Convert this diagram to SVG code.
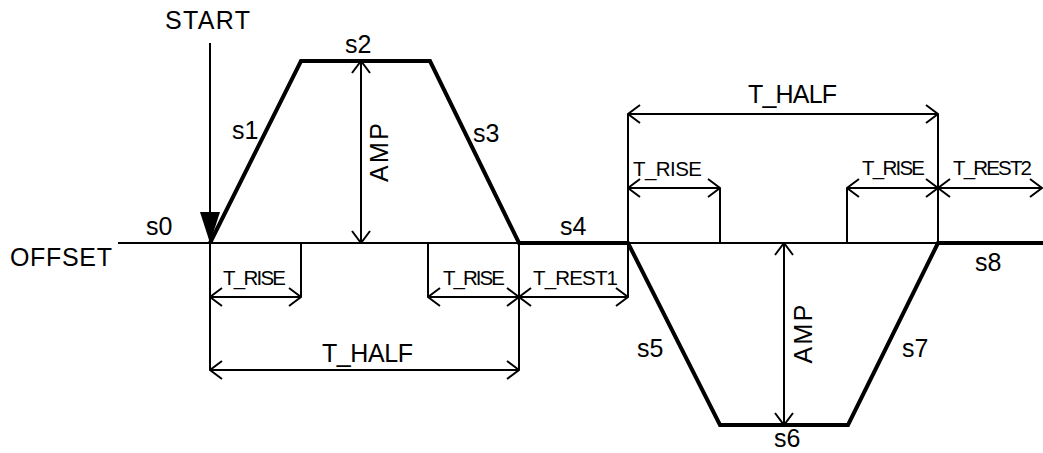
<svg xmlns="http://www.w3.org/2000/svg" width="1043" height="453" viewBox="0 0 1043 453">
<defs>
<marker id="chev" viewBox="0 0 14 20" refX="13" refY="10" markerWidth="14" markerHeight="20" markerUnits="userSpaceOnUse" orient="auto-start-reverse">
<path d="M1,1 L13,10 L1,19" fill="none" stroke="#000" stroke-width="2"/>
</marker>
<style>
.thin{stroke:#000;stroke-width:2;fill:none}
.thick{stroke:#000;stroke-width:4;fill:none;stroke-linejoin:miter}
.dim{stroke:#000;stroke-width:2;fill:none;marker-start:url(#chev);marker-end:url(#chev)}
.lbl{font-family:"Liberation Sans",Arial,sans-serif;font-size:25px;fill:#000}
.sm{font-family:"Liberation Sans",Arial,sans-serif;font-size:20.5px;fill:#000}
</style>
</defs>
<rect width="1043" height="453" fill="#fff"/>

<g id="connectors">
<line class="thin" x1="118" y1="243" x2="1043" y2="243"/>
<polyline class="thick" points="210,243 301,61 430,61 519,243 628,243 720,425 848,425 938,243 1043,243"/>
<line class="thin" x1="210" y1="43" x2="210" y2="214"/>
<polygon points="200,212 220,212 210,243" fill="#000"/>
<line class="thin" x1="628" y1="114" x2="628" y2="297"/>
<line class="thin" x1="938" y1="114" x2="938" y2="243"/>
<line class="thin" x1="720" y1="188" x2="720" y2="243"/>
<line class="thin" x1="847" y1="188" x2="847" y2="243"/>
<line class="thin" x1="210" y1="243" x2="210" y2="370"/>
<line class="thin" x1="519" y1="243" x2="519" y2="370"/>
<line class="thin" x1="301" y1="243" x2="301" y2="297"/>
<line class="thin" x1="428" y1="243" x2="428" y2="297"/>
<line class="dim" x1="628" y1="114" x2="938" y2="114"/>
<line class="dim" x1="628" y1="188" x2="720" y2="188"/>
<line class="dim" x1="847" y1="188" x2="938" y2="188"/>
<line class="dim" x1="938" y1="188" x2="1042" y2="188"/>
<line class="dim" x1="210" y1="297" x2="301" y2="297"/>
<line class="dim" x1="428" y1="297" x2="519" y2="297"/>
<line class="dim" x1="519" y1="297" x2="628" y2="297"/>
<line class="dim" x1="210" y1="370" x2="519" y2="370"/>
<line class="dim" x1="361" y1="61" x2="361" y2="243"/>
<line class="dim" x1="784" y1="243" x2="784" y2="425"/>
</g>

<g id="start"><text class="lbl" x="165" y="29" textLength="85">START</text></g>
<g id="offset"><text class="lbl" x="10" y="266" textLength="102">OFFSET</text></g>
<g id="s0"><text class="lbl" x="146" y="235">s0</text></g>
<g id="s1"><text class="lbl" x="232" y="139">s1</text></g>
<g id="s2"><text class="lbl" x="345" y="53">s2</text></g>
<g id="s3"><text class="lbl" x="473" y="142">s3</text></g>
<g id="s4"><text class="lbl" x="560" y="235">s4</text></g>
<g id="s5"><text class="lbl" x="637" y="357">s5</text></g>
<g id="s6"><text class="lbl" x="774" y="447">s6</text></g>
<g id="s7"><text class="lbl" x="902" y="357">s7</text></g>
<g id="s8"><text class="lbl" x="975" y="271">s8</text></g>
<g id="amp1"><text class="lbl" transform="translate(388,152.5) rotate(-90)" text-anchor="middle" textLength="59" font-size="27">AMP</text></g>
<g id="amp2"><text class="lbl" transform="translate(812,334) rotate(-90)" text-anchor="middle" textLength="59" font-size="27">AMP</text></g>
<g id="thalf-top"><text class="lbl" x="748" y="103" textLength="89">T_HALF</text></g>
<g id="thalf-bottom"><text class="lbl" x="322" y="362" textLength="91">T_HALF</text></g>
<g id="trise-1"><text class="sm" x="633" y="176" textLength="69">T_RISE</text></g>
<g id="trise-2"><text class="sm" x="862" y="175" textLength="63">T_RISE</text></g>
<g id="trest2"><text class="sm" x="953" y="175" textLength="79">T_REST2</text></g>
<g id="trise-3"><text class="sm" x="223" y="285" textLength="63">T_RISE</text></g>
<g id="trise-4"><text class="sm" x="443" y="285" textLength="62">T_RISE</text></g>
<g id="trest1"><text class="sm" x="533" y="285" textLength="85">T_REST1</text></g>
</svg>
